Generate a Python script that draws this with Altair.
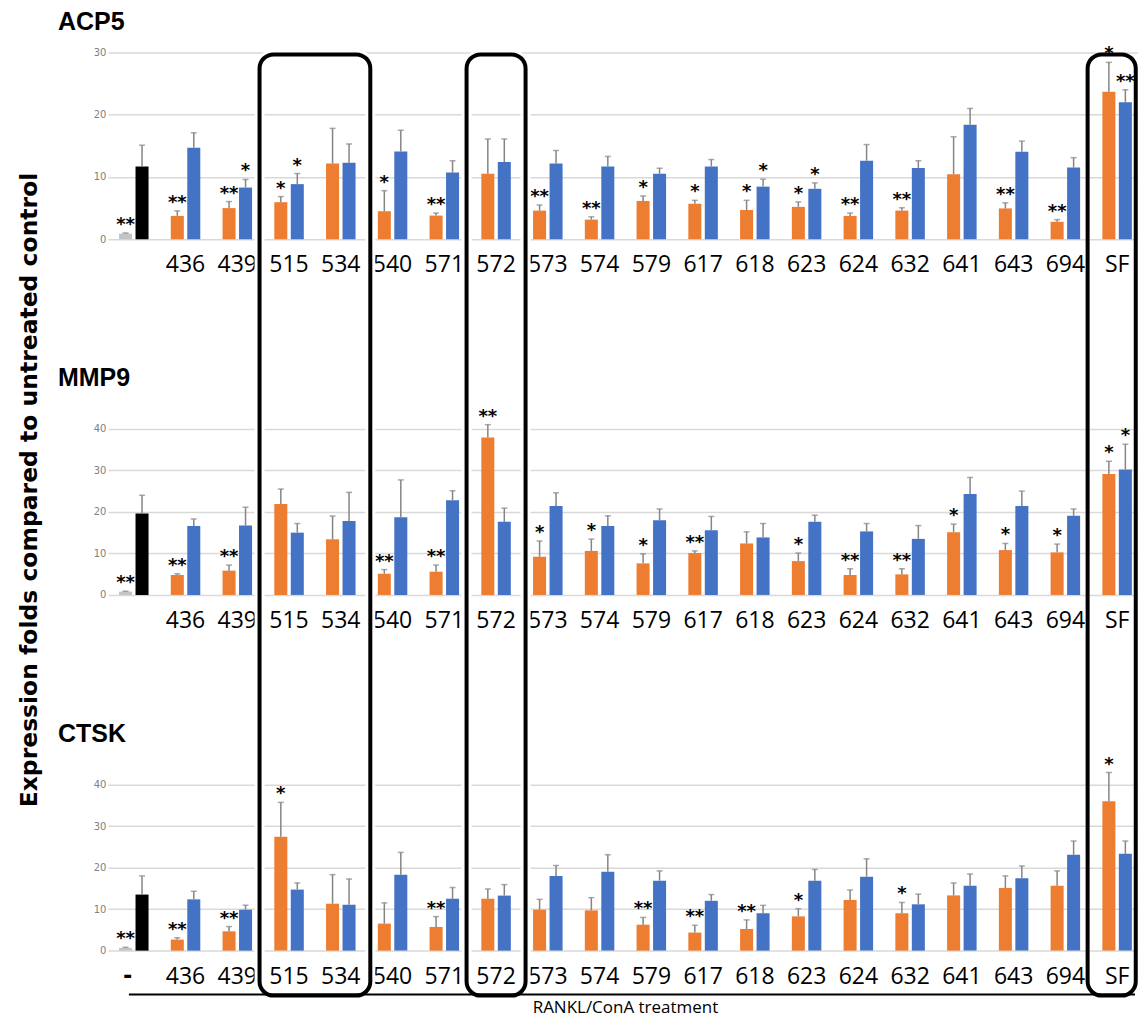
import altair as alt
import pandas as pd

# ---------------- data ----------------
CATS = ["ctrl", "436", "439", "515", "534", "540", "571", "572", "573", "574",
        "579", "617", "618", "623", "624", "632", "641", "643", "694", "SF"]
LABELS_PLAIN = [""] + CATS[1:]
LABELS_DASH = ["-"] + CATS[1:]

# ACP5
ACP5_A = [0.9, 3.75, 5.0, 5.95, 12.15, 4.5, 3.8, 10.5, 4.6, 3.15, 6.15, 5.7, 4.7, 5.2, 3.75, 4.6, 10.45, 4.95, 2.8, 23.7]
ACP5_A_UP = [1.0, 4.55, 6.05, 6.85, 17.8, 7.8, 4.2, 16.1, 5.5, 3.6, 6.95, 6.25, 6.25, 6.0, 4.2, 5.05, 16.45, 5.85, 3.15, 28.4]
ACP5_A_SIG = ["**", "**", "**", "*", "", "*", "**", "", "**", "**", "*", "*", "*", "*", "**", "**", "", "**", "**", "*"]
ACP5_B = [11.7, 14.7, 8.3, 8.85, 12.3, 14.1, 10.7, 12.4, 12.15, 11.7, 10.5, 11.7, 8.45, 8.1, 12.6, 11.45, 18.4, 14.05, 11.5, 22.0]
ACP5_B_UP = [15.1, 17.1, 9.6, 10.55, 15.3, 17.5, 12.6, 16.1, 14.25, 13.3, 11.4, 12.8, 9.65, 9.05, 15.2, 12.6, 21.0, 15.75, 13.1, 24.0]
ACP5_B_SIG = ["", "", "*", "*", "", "", "", "", "", "", "", "", "*", "*", "", "", "", "", "", "**"]

# MMP9
MMP9_A = [0.8, 4.8, 5.85, 21.9, 13.4, 5.1, 5.6, 37.9, 9.2, 10.6, 7.6, 10.1, 12.4, 8.15, 4.8, 4.95, 15.1, 10.8, 10.25, 29.1]
MMP9_A_UP = [0.9, 5.1, 7.2, 25.5, 19.0, 6.1, 7.2, 41.0, 13.0, 13.45, 9.9, 10.6, 15.2, 10.1, 6.3, 6.3, 17.05, 12.4, 12.25, 32.2]
MMP9_A_SIG = ["**", "**", "**", "", "", "**", "**", "**", "*", "*", "*", "**", "", "*", "**", "**", "*", "*", "*", "*"]
MMP9_B = [19.6, 16.6, 16.7, 15.0, 17.8, 18.7, 22.8, 17.6, 21.4, 16.6, 18.0, 15.6, 13.85, 17.6, 15.3, 13.5, 24.3, 21.4, 19.05, 30.2]
MMP9_B_UP = [24.0, 18.3, 21.1, 17.2, 24.7, 27.7, 25.1, 20.9, 24.6, 19.05, 20.7, 18.9, 17.2, 19.2, 17.2, 16.7, 28.3, 25.0, 20.7, 36.3]
MMP9_B_SIG = ["", "", "", "", "", "", "", "", "", "", "", "", "", "", "", "", "", "", "", "*"]

# CTSK
CTSK_A = [0.65, 2.65, 4.65, 27.4, 11.3, 6.5, 5.7, 12.5, 9.85, 9.7, 6.25, 4.35, 5.2, 8.25, 12.2, 9.0, 13.3, 15.1, 15.6, 36.0]
CTSK_A_UP = [0.8, 3.1, 5.8, 35.7, 18.3, 11.5, 8.2, 14.85, 12.35, 12.75, 8.0, 6.1, 7.4, 10.1, 14.6, 11.6, 16.3, 18.0, 19.2, 42.9]
CTSK_A_SIG = ["**", "**", "**", "*", "", "", "**", "", "", "", "**", "**", "**", "*", "", "*", "", "", "", "*"]
CTSK_B = [13.5, 12.35, 9.85, 14.7, 11.05, 18.3, 12.5, 13.25, 17.95, 19.0, 16.85, 12.0, 9.0, 16.85, 17.8, 11.15, 15.6, 17.4, 23.1, 23.3]
CTSK_B_UP = [18.0, 14.3, 10.9, 16.3, 17.25, 23.65, 15.2, 15.9, 20.5, 23.1, 19.2, 13.5, 10.9, 19.55, 22.1, 13.6, 18.45, 20.4, 26.4, 26.4]
CTSK_B_SIG = [""] * 20

BOXED_GROUPS = [("515", "534"), ("572", "572"), ("SF", "SF")]

Y_TITLE = "Expression folds compared to untreated control"
X_TITLE = "RANKL/ConA treatment"

KIND_DOMAIN = ["ctrl_a", "ctrl_b", "a", "b"]
KIND_COLORS = ["#C4C4C4", "#000000", "#ED7D31", "#4472C4"]

# ---------------- layout constants ----------------
W = 1019           # plot width (gridline extent)
H = 187            # plot height of each panel
X_RANGE = [-9, 1027]  # band range (20 bands, step ~51.8)
ERR_COLOR = "#858585"


def panel_df(a, a_up, a_sig, b, b_up, b_sig):
    rows = []
    for i, c in enumerate(CATS):
        ctrl = c == "ctrl"
        rows.append(dict(cat=c, series="a", kind="ctrl_a" if ctrl else "a",
                         value=a[i], upper=a_up[i], sig=a_sig[i]))
        rows.append(dict(cat=c, series="b", kind="ctrl_b" if ctrl else "b",
                         value=b[i], upper=b_up[i], sig=b_sig[i]))
    return pd.DataFrame(rows)


def make_panel(name, df, ymax, labels, extra=()):
    x = alt.X("cat:N", scale=alt.Scale(domain=CATS, range=X_RANGE, paddingInner=0, paddingOuter=0),
              axis=None)
    xo = alt.XOffset("series:N", scale=alt.Scale(domain=["a", "b"], paddingInner=0.21, paddingOuter=0.675))
    yscale = alt.Scale(domain=[0, ymax], nice=False, zero=True)
    yaxis = alt.Axis(values=list(range(0, ymax + 1, 5)), domain=False, ticks=False, grid=True,
                     gridColor="#d9d9d9", gridWidth=1.5, labelColor="#808080", labelOverlap=False,
                     labelFont="DejaVu Sans", labelFontSize=10, labelPadding=11, title=None)
    base = alt.Chart(df)
    bars = base.mark_bar().encode(
        x=x, xOffset=xo,
        y=alt.Y("value:Q", scale=yscale, axis=yaxis),
        color=alt.Color("kind:N", scale=alt.Scale(domain=KIND_DOMAIN, range=KIND_COLORS), legend=None),
    )
    err = base.mark_rule(color=ERR_COLOR, strokeWidth=1.5).encode(
        x=x, xOffset=xo, y="value:Q", y2="upper:Q")
    cap = base.mark_tick(color=ERR_COLOR, orient="horizontal", size=6, thickness=1.5).encode(
        x=x, xOffset=xo, y="upper:Q")
    stars = base.transform_filter("datum.sig != ''").mark_text(
        font="DejaVu Sans", fontSize=18, fontWeight="bold", color="black",
        baseline="alphabetic", dy=-3).encode(x=x, xOffset=xo, y="upper:Q", text="sig:N")
    lab_df = pd.DataFrame({"cat": CATS, "label": labels})
    xlabels = alt.Chart(lab_df).transform_filter("datum.label != '-'").mark_text(
        font="Open Sans", fontSize=23, color="black", baseline="middle").encode(
        x=x, y=alt.value(H + 26), text="label:N")
    dash = alt.Chart(lab_df).transform_filter("datum.label == '-'").mark_text(
        font="Open Sans", fontSize=26, fontWeight="bold", color="black", baseline="middle",
        dx=-6).encode(x=x, y=alt.value(H + 25), text="label:N")
    title = alt.Chart(pd.DataFrame({"name": [name]})).mark_text(
        font="Liberation Sans", fontSize=25, fontWeight="bold", color="black",
        align="left", baseline="alphabetic").encode(
        x=alt.value(-59), y=alt.value(-22), text="name:N")
    layers = [bars, err, cap, stars, xlabels, dash, title] + list(extra)
    return alt.layer(*layers).properties(width=W, height=H)


df1 = panel_df(ACP5_A, ACP5_A_UP, ACP5_A_SIG, ACP5_B, ACP5_B_UP, ACP5_B_SIG)
df2 = panel_df(MMP9_A, MMP9_A_UP, MMP9_A_SIG, MMP9_B, MMP9_B_UP, MMP9_B_SIG)
df3 = panel_df(CTSK_A, CTSK_A_UP, CTSK_A_SIG, CTSK_B, CTSK_B_UP, CTSK_B_SIG)

# y axis title (drawn in middle panel)
ytitle = alt.Chart(pd.DataFrame({"t": [Y_TITLE]})).mark_text(
    font="DejaVu Sans", fontSize=23.5, fontWeight="bold", color="black",
    angle=270, align="center", baseline="middle").encode(
    x=alt.value(-87), y=alt.value(82), text="t:N")

# boxes around selected groups (drawn in bottom panel, spanning upward)
box_df = pd.DataFrame({
    "i0": [CATS.index(a) for a, b in BOXED_GROUPS],
    "i1": [CATS.index(b) + 1 for a, b in BOXED_GROUPS],
})
bx = alt.X("x0:Q", scale=alt.Scale(domain=[0, len(CATS)], range=X_RANGE, nice=False, zero=False),
           axis=None)
box_base = alt.Chart(box_df).transform_calculate(
    x0="datum.i0 - 0.07", x1="min(datum.i1 + 0.07, 19.86)")
box_white = box_base.transform_filter(f"datum.i1 < {len(CATS)}").mark_rect(
    fillOpacity=0, stroke="white", strokeWidth=10, cornerRadius=14).encode(
    x=bx, x2="x1:Q", y=alt.value(-710), y2=alt.value(232))
box_black = box_base.mark_rect(fillOpacity=0, stroke="black", strokeWidth=4, cornerRadius=14).encode(
    x=bx, x2="x1:Q", y=alt.value(-710), y2=alt.value(232))
bottom_line = alt.Chart(pd.DataFrame({"t": [X_TITLE]})).mark_rule(color="black", strokeWidth=2).encode(
    x=alt.value(12), x2=alt.value(W), y=alt.value(231))
xtitle = alt.Chart(pd.DataFrame({"t": [X_TITLE]})).mark_text(
    font="Open Sans", fontSize=17, color="black", align="center", baseline="alphabetic").encode(
    x=alt.value(509), y=alt.value(249), text="t:N")

p1 = make_panel("ACP5", df1, 30, LABELS_PLAIN)
p2 = make_panel("MMP9", df2, 45, LABELS_PLAIN, extra=[ytitle])
p3 = make_panel("CTSK", df3, 45, LABELS_DASH,
                extra=[box_white, box_black, bottom_line, xtitle]).resolve_scale(x="independent")

chart = alt.vconcat(p1, p2, p3, spacing=169, bounds="flush").properties(
    padding={"left": 9, "top": 2, "right": 0, "bottom": 3}
).configure_view(strokeWidth=0)

chart.save("out.html", embed_options={"renderer": "svg", "actions": False})
